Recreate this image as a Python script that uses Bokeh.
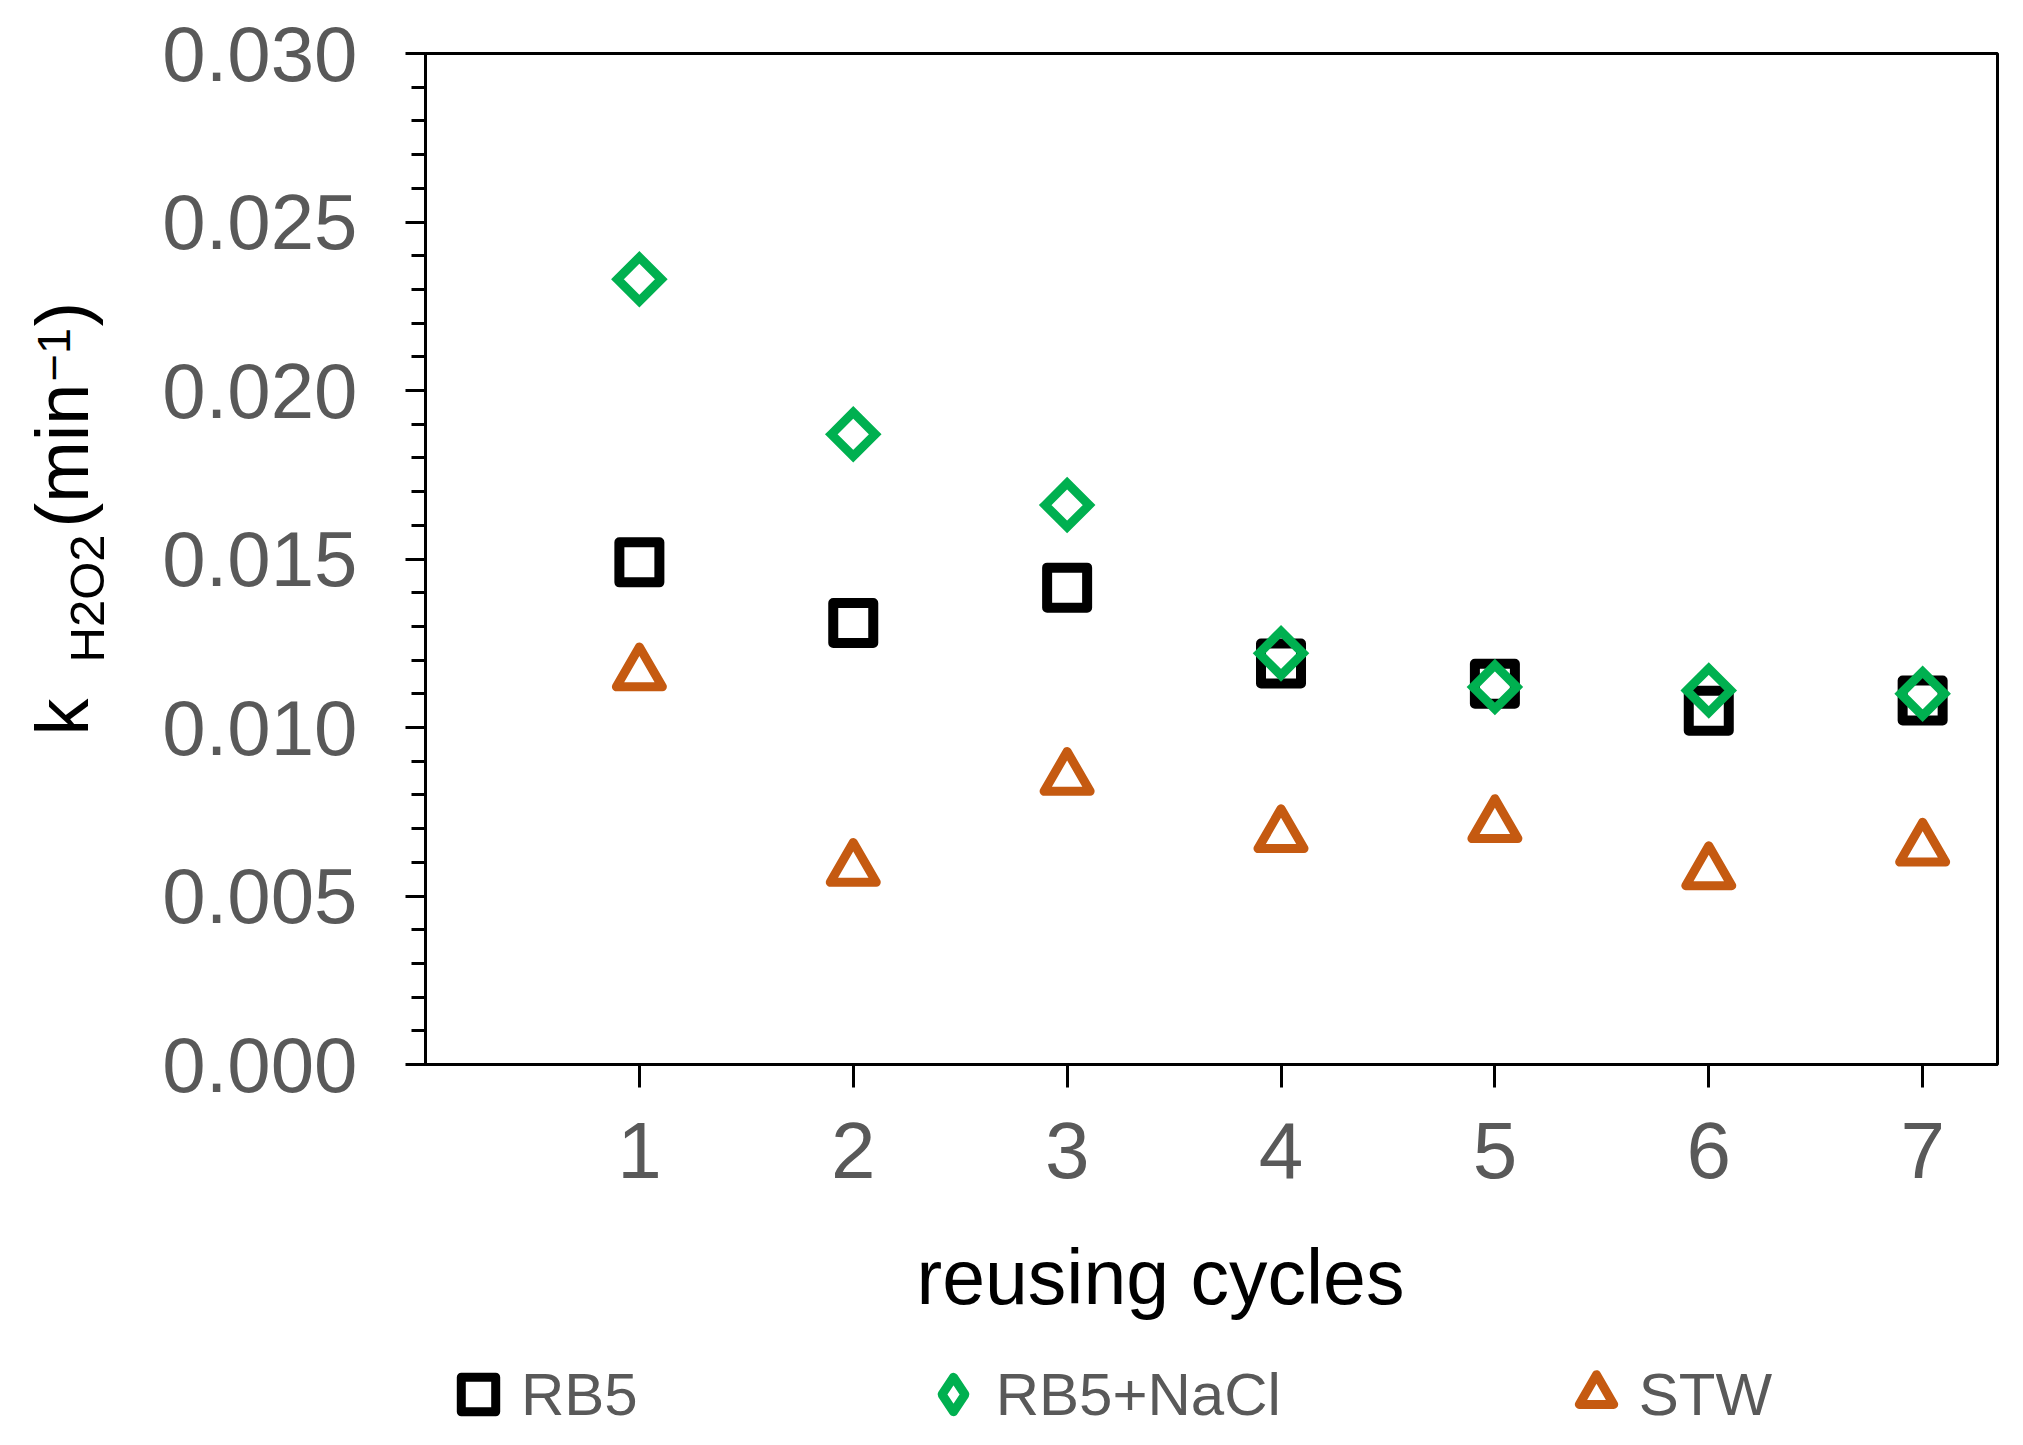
import numpy as np
from bokeh.embed import file_html
from bokeh.layouts import column, row
from bokeh.models import FixedTicker, Label, Legend, LegendItem, NumeralTickFormatter, Range1d
from bokeh.plotting import figure
from bokeh.resources import INLINE

# Data
cycles = [1, 2, 3, 4, 5, 6, 7]
rb5 = [0.0149, 0.0131, 0.01415, 0.0119, 0.0113, 0.0105, 0.0108]
rb5_nacl = [0.0233, 0.0187, 0.0166, 0.0122, 0.0112, 0.0111, 0.0110]
stw = [0.0116, 0.0058, 0.0085, 0.0068, 0.0071, 0.0057, 0.0064]

y_major = [0.0, 0.005, 0.010, 0.015, 0.020, 0.025, 0.030]
y_minor = [round(i * 0.001, 3) for i in range(31)]

FONT = "Liberation Sans"
GREY = "#595959"
BLACK = "#000000"
GREEN = "#00B050"
ORANGE = "#C55A11"

# overall page size and pieces (px)
W, H = 2020, 1442
LEFT_W = 130          # strip holding the y title
MAIN_H = 1230         # height of the row holding the chart
FRAME = dict(left=425, right=1997, top=53, bottom=1064)   # plot box on the page


def blank(width, height):
    f = figure(width=width, height=height, x_axis_type=None, y_axis_type=None,
               output_backend="svg", toolbar_location=None, min_border=0,
               x_range=Range1d(0, 1), y_range=Range1d(0, 1))
    f.outline_line_color = None
    f.background_fill_color = "white"
    f.border_fill_color = "white"
    return f


# ---- main chart
p = figure(
    width=W - LEFT_W,
    height=MAIN_H,
    x_range=Range1d(0, 7.35),
    y_range=Range1d(0, 0.030),
    output_backend="svg",
    toolbar_location=None,
    min_border_left=FRAME["left"] - LEFT_W,
    min_border_right=W - FRAME["right"],
    min_border_top=FRAME["top"],
    min_border_bottom=MAIN_H - FRAME["bottom"],
)
p.grid.visible = False
p.outline_line_color = BLACK
p.outline_line_width = 3
p.background_fill_color = "white"
p.border_fill_color = "white"

xa = p.xaxis[0]
xa.ticker = FixedTicker(ticks=cycles)
xa.axis_line_width = 3
xa.major_tick_line_width = 3
xa.major_tick_out = 23
xa.major_tick_in = 0
xa.minor_tick_out = 0
xa.minor_tick_in = 0
xa.major_label_text_font = FONT
xa.major_label_text_font_size = "80px"
xa.major_label_text_color = GREY
xa.major_label_standoff = 35

ya = p.yaxis[0]
ya.ticker = FixedTicker(ticks=y_major, minor_ticks=y_minor)
ya.formatter = NumeralTickFormatter(format="0.000")
ya.axis_line_width = 3
ya.major_tick_line_width = 3
ya.minor_tick_line_width = 3
ya.major_tick_out = 20
ya.major_tick_in = 0
ya.minor_tick_out = 14
ya.minor_tick_in = 0
ya.major_label_text_font = FONT
ya.major_label_text_font_size = "78px"
ya.major_label_text_color = GREY
ya.major_label_standoff = 48

p.scatter(cycles, rb5, marker="square", size=40, fill_color=None,
          line_color=BLACK, line_width=10, line_join="round")
p.scatter(cycles, rb5_nacl, marker="square", angle=np.pi / 4, size=31, fill_color=None,
          line_color=GREEN, line_width=9, line_join="miter")
p.scatter(cycles, stw, marker="triangle", size=46, fill_color=None,
          line_color=ORANGE, line_width=9, line_join="round")

# ---- y title strip: k, subscript H2O2, (min, superscript -1, )
# its frame is aligned with the chart frame, so y is measured up from the frame bottom
ytitle = blank(LEFT_W, MAIN_H)
y_parts = [
    ("k", 62, 735, "74px"),
    ("H2O2", 86, 662, "49px"),
    ("(min", 62, 527, "74px"),
    ("\u22121", 53, 381, "47px"),
    (")", 62, 326, "74px"),
]
for txt, px, py, fs in y_parts:
    ytitle.add_layout(Label(x=px, y=FRAME["bottom"] - py, x_units="screen", y_units="screen",
                            text=txt, angle=np.pi / 2, text_font=FONT, text_font_size=fs,
                            text_color=BLACK, text_align="left", text_baseline="alphabetic"))

# ---- footer: x title and legend
FOOT_H = H - MAIN_H
footer = blank(W, FOOT_H)
footer.x_range = Range1d(-10, -9)   # keeps the legend proxies out of view
footer.add_layout(Label(x=1160, y=166, x_units="screen", y_units="screen",
                        text="reusing cycles", text_font=FONT, text_font_size="77px",
                        text_color=BLACK, text_align="center", text_baseline="alphabetic"))

leg_rb5 = footer.scatter(cycles, rb5, marker="square", fill_color=None,
                         line_color=BLACK, line_width=9, line_join="round")
leg_nacl = footer.scatter(cycles, rb5_nacl, marker="diamond", fill_color=None,
                          line_color=GREEN, line_width=9, line_join="round")
leg_stw = footer.scatter(cycles, stw, marker="triangle", fill_color=None,
                         line_color=ORANGE, line_width=9, line_join="round")

legend = Legend(
    items=[
        LegendItem(label="RB5", renderers=[leg_rb5]),
        LegendItem(label="RB5+NaCl", renderers=[leg_nacl]),
        LegendItem(label="STW", renderers=[leg_stw]),
    ],
    orientation="horizontal",
    location=(435, 5),
    glyph_width=86,
    glyph_height=86,
    label_standoff=0,
    spacing=272,
    padding=0,
    margin=0,
    label_text_font=FONT,
    label_text_font_size="60px",
    label_text_color=GREY,
    border_line_alpha=0,
    background_fill_alpha=0,
)
footer.add_layout(legend)

layout = column(row(ytitle, p), footer)
open("out.html", "w").write(file_html(layout, INLINE))
